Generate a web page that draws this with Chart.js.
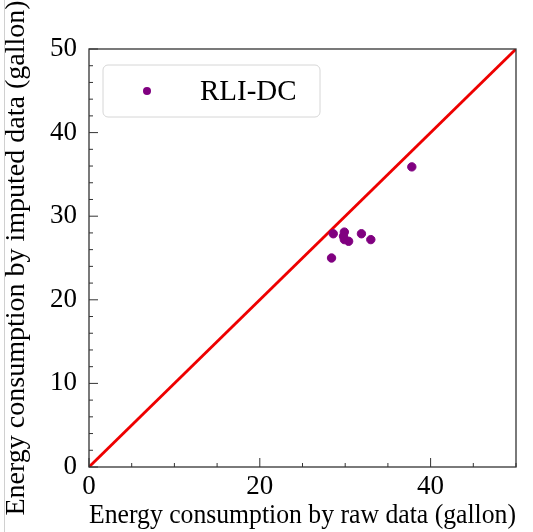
<!DOCTYPE html>
<html>
<head>
<meta charset="utf-8">
<script src="https://cdn.jsdelivr.net/npm/chart.js@4/dist/chart.umd.min.js"></script>
<style>
  html, body { margin: 0; padding: 0; background: #fff; }
  #wrap { position: relative; width: 533px; height: 532px; }
  #edge { position: absolute; left: 4px; top: 0; width: 1px; height: 532px; background: #d0d0d0; }
</style>
</head>
<body>
<div id="wrap">
  <div id="edge"></div>
  <canvas id="myChart" width="533" height="532"></canvas>
</div>
<script>
// raw vs imputed consumption, gallons
let rawValues     = [37.8, 28.6, 29.9, 29.8, 29.9, 30.4, 31.9, 33.0, 28.4];
let imputedValues = [35.9, 27.9, 28.1, 27.6, 27.2, 27.0, 27.9, 27.2, 25.0];
let seriesName = 'RLI-DC';
let axisMax = 50;
let xTickValues = [0, 20, 40];
let yTickValues = [0, 10, 20, 30, 40, 50];
let xMinor = 5, yMinor = 2;

let serif = '"Liberation Serif", "DejaVu Serif", serif';

let points = rawValues.map((v, i) => ({ x: v, y: imputedValues[i] }));

// inward ticks on left and bottom, plus the box around the plot
let frame = {
    id: 'frame',
    afterDraw(chart) {
        let c = chart.ctx, a = chart.chartArea;
        let xs = chart.scales.x, ys = chart.scales.y;
        c.save();
        c.strokeStyle = '#333';
        c.lineWidth = 1.3;
        c.strokeRect(a.left, a.top, a.right - a.left, a.bottom - a.top);
        c.lineWidth = 1;
        c.beginPath();
        for (let v = 0; v <= axisMax; v += xMinor) {
            let px = xs.getPixelForValue(v);
            let len = v % 20 === 0 ? 9 : 4;
            c.moveTo(px, a.bottom);
            c.lineTo(px, a.bottom - len);
        }
        for (let v = 0; v <= axisMax; v += yMinor) {
            let py = ys.getPixelForValue(v);
            let len = v % 10 === 0 ? 9 : 4;
            c.moveTo(a.left, py);
            c.lineTo(a.left + len, py);
        }
        c.stroke();
        c.restore();
    }
};

// legend box drawn in the upper-left of the plot
let insideLegend = {
    id: 'insideLegend',
    afterDraw(chart) {
        let c = chart.ctx, a = chart.chartArea;
        let x = a.left + 14, y = a.top + 16, w = 217, h = 52, r = 5;
        c.save();
        c.fillStyle = 'rgba(255,255,255,0.85)';
        c.strokeStyle = '#d6d6d6';
        c.lineWidth = 1;
        c.beginPath();
        c.roundRect(x, y, w, h, r);
        c.fill();
        c.stroke();
        c.fillStyle = '#800080';
        c.beginPath();
        c.arc(x + 44, y + 26, 4, 0, Math.PI * 2);
        c.fill();
        c.fillStyle = '#000';
        c.font = '29px ' + serif;
        c.textBaseline = 'middle';
        c.fillText(seriesName, x + 97, y + 27);
        c.restore();
    }
};

let ctx = document.getElementById('myChart');

let myChart = new Chart(ctx, {
    type: 'scatter',
    data: {
        datasets: [{
            label: seriesName,
            data: points,
            backgroundColor: '#800080',
            borderColor: '#800080',
            pointRadius: 4.2,
            pointHoverRadius: 4.2
        }, {
            type: 'line',
            label: 'y = x',
            data: [{ x: 0, y: 0 }, { x: axisMax, y: axisMax }],
            borderColor: '#ee0000',
            borderWidth: 2.8,
            pointRadius: 0,
            fill: false
        }]
    },
    options: {
        responsive: false,
        animation: false,
        layout: { padding: { top: 49, right: 17, left: 0, bottom: 0 } },
        plugins: {
            legend: { display: false },
            tooltip: { enabled: false }
        },
        scales: {
            x: {
                type: 'linear',
                min: 0,
                max: axisMax,
                grid: { display: false },
                border: { display: false },
                afterBuildTicks(scale) {
                    scale.ticks = xTickValues.map(v => ({ value: v }));
                },
                ticks: {
                    color: '#000',
                    font: { family: serif, size: 27 },
                    padding: -4
                },
                title: {
                    display: true,
                    text: 'Energy consumption by raw data (gallon)',
                    color: '#000',
                    font: { family: serif, size: 28 },
                    padding: { top: -4, bottom: 0 }
                },
                afterFit(scale) { scale.height = 65; }
            },
            y: {
                type: 'linear',
                min: 0,
                max: axisMax,
                grid: { display: false },
                border: { display: false },
                afterBuildTicks(scale) {
                    scale.ticks = yTickValues.map(v => ({ value: v }));
                },
                ticks: {
                    color: '#000',
                    font: { family: serif, size: 27 },
                    padding: 4
                },
                title: {
                    display: true,
                    text: 'Energy consumption by imputed data (gallon)',
                    color: '#000',
                    font: { family: serif, size: 28 },
                    padding: { top: 0, bottom: 0 }
                },
                afterFit(scale) { scale.width = 89; }
            }
        }
    },
    plugins: [frame, insideLegend]
});
</script>
</body>
</html>
